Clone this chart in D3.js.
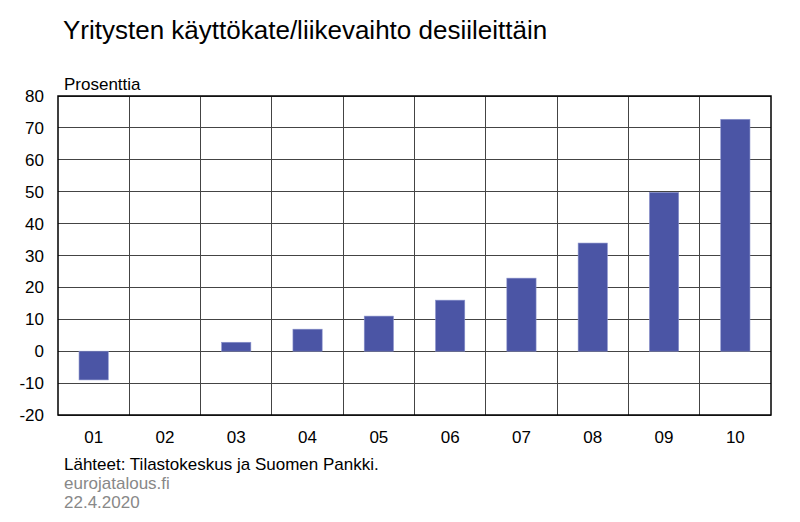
<!DOCTYPE html>
<html><head><meta charset="utf-8">
<script src="https://cdn.jsdelivr.net/npm/d3@7"></script>
<style>body{margin:0;background:#fff;} svg{display:block;font-family:"Liberation Sans",Arial,sans-serif;}</style>
</head><body>
<svg id="c" width="800" height="522"></svg>
<script>
const categories = ["01","02","03","04","05","06","07","08","09","10"];
const values = [-9, 0, 2.8, 6.9, 11, 16, 22.9, 33.9, 49.8, 72.7];
const yTicks = [-20,-10,0,10,20,30,40,50,60,70,80];

const svg = d3.select("#c");
const L=58, R=771, T=96, B=415;
const x = d3.scaleBand().domain(categories).range([L,R]).paddingInner(0).paddingOuter(0);
const y = d3.scaleLinear().domain([-20,80]).range([B,T]);

svg.append("text").attr("x",63).attr("y",39).attr("font-size",26).attr("fill","#000")
  .text("Yritysten käyttökate/liikevaihto desiileittäin");
svg.append("text").attr("x",64).attr("y",90).attr("font-size",17).attr("fill","#000").text("Prosenttia");

// horizontal grid
svg.append("g").selectAll("line").data(yTicks).join("line")
  .attr("x1",L).attr("x2",R).attr("y1",d=>y(d)).attr("y2",d=>y(d))
  .attr("stroke","#444").attr("stroke-width",1).attr("shape-rendering","crispEdges");
// vertical grid
svg.append("g").selectAll("line").data(categories.slice(1)).join("line")
  .attr("x1",d=>x(d)).attr("x2",d=>x(d)).attr("y1",T).attr("y2",B)
  .attr("stroke","#444").attr("stroke-width",1).attr("shape-rendering","crispEdges");

// bars
const bw = x.bandwidth()*0.41;
svg.append("g").selectAll("rect").data(categories).join("rect")
  .attr("x",(d)=>x(d)+x.bandwidth()/2-bw/2)
  .attr("width",bw)
  .attr("y",(d,i)=>y(Math.max(0,values[i])))
  .attr("height",(d,i)=>Math.abs(y(values[i])-y(0)))
  .attr("fill","#4b55a5").attr("stroke","#8a92cc").attr("stroke-width",0.6);

// frame
svg.append("rect").attr("x",L).attr("y",T).attr("width",R-L).attr("height",B-T)
  .attr("fill","none").attr("stroke","#000").attr("stroke-width",1.5);

// y axis labels
svg.append("g").selectAll("text").data(yTicks).join("text")
  .attr("x",44).attr("y",d=>y(d)+6).attr("text-anchor","end").attr("font-size",17).attr("fill","#000")
  .text(d=>d);
// x axis labels
svg.append("g").selectAll("text").data(categories).join("text")
  .attr("x",d=>x(d)+x.bandwidth()/2).attr("y",443).attr("text-anchor","middle").attr("font-size",17).attr("fill","#000")
  .text(d=>d);

svg.append("text").attr("x",64).attr("y",470).attr("font-size",17).attr("fill","#000").text("Lähteet: Tilastokeskus ja Suomen Pankki.");
svg.append("text").attr("x",64).attr("y",489).attr("font-size",17).attr("fill","#888").text("eurojatalous.fi");
svg.append("text").attr("x",64).attr("y",508).attr("font-size",17).attr("fill","#888").text("22.4.2020");
</script>
</body></html>
